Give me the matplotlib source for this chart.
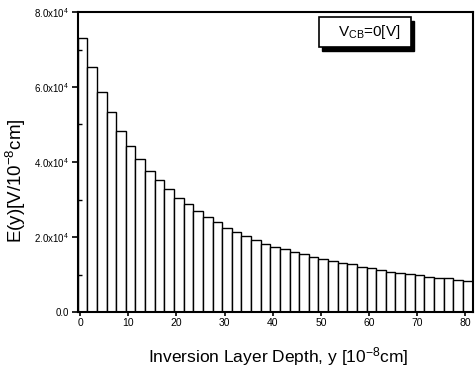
import matplotlib
matplotlib.use("Agg")
import matplotlib.pyplot as plt
from matplotlib.patches import Rectangle
import numpy as np

plt.rcParams['font.family'] = ['Liberation Sans', 'DejaVu Sans']
plt.rcParams['mathtext.fontset'] = 'custom'
plt.rcParams['mathtext.rm'] = 'Liberation Sans'
plt.rcParams['mathtext.it'] = 'Liberation Sans'
plt.rcParams['mathtext.bf'] = 'Liberation Sans:bold'

# Inversion layer depth (10^-8 cm) and field E(y) (V/10^-8 cm)
depth = list(range(0, 82, 2))
field = [7.31e4, 6.53e4, 5.87e4, 5.32e4, 4.83e4, 4.43e4, 4.08e4, 3.77e4, 3.51e4, 3.27e4,
         3.04e4, 2.87e4, 2.69e4, 2.53e4, 2.39e4, 2.25e4, 2.14e4, 2.03e4, 1.92e4, 1.81e4,
         1.73e4, 1.67e4, 1.61e4, 1.54e4, 1.47e4, 1.41e4, 1.35e4, 1.31e4, 1.27e4, 1.21e4,
         1.17e4, 1.12e4, 1.08e4, 1.05e4, 1.02e4, 0.99e4, 0.94e4, 0.92e4, 0.90e4, 0.86e4,
         0.83e4]
xticks = [0, 10, 20, 30, 40, 50, 60, 70, 80]
yticks = [0, 2e4, 4e4, 6e4, 8e4]
ytick_labels = ['0.0', '2.0x10$^4$', '4.0x10$^4$', '6.0x10$^4$', '8.0x10$^4$']

W, H = 475, 368
fig = plt.figure(figsize=(W / 100, H / 100), dpi=100)
ax = fig.add_axes([77.7 / W, 1 - 312 / H, (472.5 - 77.7) / W, 300 / H])

ax.bar(np.array(depth) - 0.5, field, width=2, align='edge',
       facecolor='white', edgecolor='black', linewidth=1.0)

ax.set_xlim(-0.5, 81.5)
ax.set_ylim(0, 8e4)
ax.set_xticks(xticks)
ax.set_xticklabels([str(t) for t in xticks], fontsize=7.5)
ax.set_yticks(yticks)
ax.set_yticklabels(ytick_labels, fontsize=7)
ax.set_yticks([1e4, 3e4, 5e4, 7e4], minor=True)
ax.tick_params(axis='y', which='major', direction='out', length=4, width=1.2, pad=2)
ax.tick_params(axis='y', which='minor', direction='in', length=3, width=1)
ax.tick_params(axis='x', which='major', direction='out', length=3, width=1.2, pad=1)
for s in ax.spines.values():
    s.set_linewidth(1.5)

ax.set_xlabel('Inversion Layer Depth, y [10$^{-8}$cm]', fontsize=12.5)
ax.xaxis.set_label_coords((278 - 77.7) / 394.8, -(345 - 312) / 300)
ax.set_ylabel('E(y)[V/10$^{-8}$cm]', fontsize=13.5)
ax.yaxis.set_label_coords((28 - 77.7) / 394.8, (312 - 181) / 300)

# legend-like box with shadow
bx0, bx1 = 0.611, 0.844
by0, by1 = 0.883, 0.983
ax.add_patch(Rectangle((bx0 + 0.009, by0 - 0.013), bx1 - bx0, by1 - by0,
                       transform=ax.transAxes, facecolor='black', edgecolor='black',
                       zorder=5, clip_on=False))
ax.add_patch(Rectangle((bx0, by0), bx1 - bx0, by1 - by0,
                       transform=ax.transAxes, facecolor='white', edgecolor='black',
                       linewidth=1.2, zorder=6, clip_on=False))
ax.text((bx0 + bx1) / 2 + 0.01, (by0 + by1) / 2, 'V$_{\\mathrm{CB}}$=0[V]', transform=ax.transAxes,
        ha='center', va='center', fontsize=11, zorder=7)

fig.savefig('out.png', dpi=100)
